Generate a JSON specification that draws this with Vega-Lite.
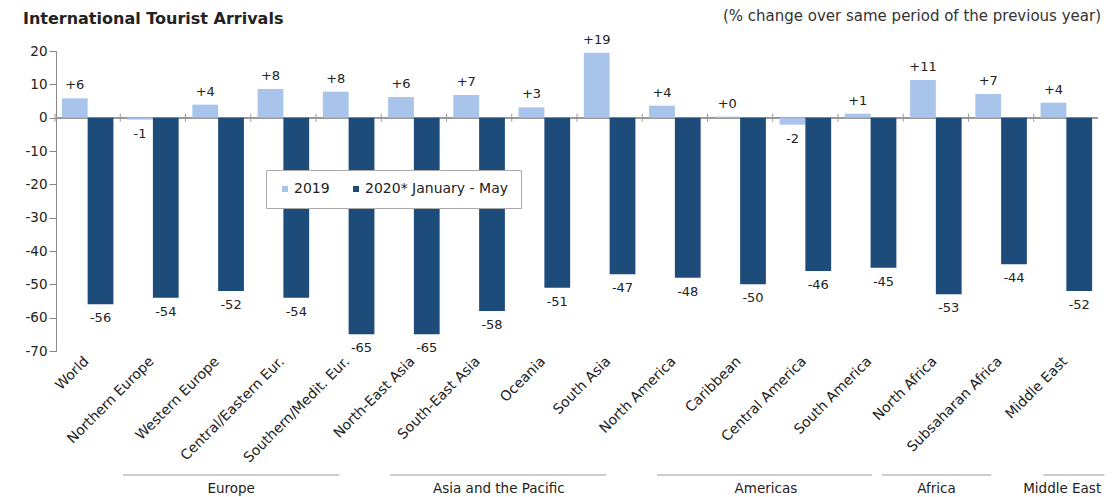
{
  "$schema": "https://vega.github.io/schema/vega-lite/v6.json",
  "background": "white",
  "padding": {"left": 22, "top": 8, "right": 8, "bottom": 0},
  "config": {
    "font": "DejaVu Sans",
    "view": {"stroke": null},
    "concat": {"spacing": 9}
  },
  "title": {
    "text": "International Tourist Arrivals",
    "anchor": "start",
    "frame": "bounds",
    "fontSize": 16,
    "fontWeight": "bold",
    "color": "#222222",
    "offset": -18,
    "dx": -2
  },
  "datasets": {
    "bars": [
      {"region": "World", "series": "2019", "value": 5.8, "label": "+6"},
      {"region": "World", "series": "2020* January - May", "value": -56, "label": "-56"},
      {"region": "Northern Europe", "series": "2019", "value": -0.6, "label": "-1"},
      {"region": "Northern Europe", "series": "2020* January - May", "value": -54, "label": "-54"},
      {"region": "Western Europe", "series": "2019", "value": 3.9, "label": "+4"},
      {"region": "Western Europe", "series": "2020* January - May", "value": -52, "label": "-52"},
      {"region": "Central/Eastern Eur.", "series": "2019", "value": 8.6, "label": "+8"},
      {"region": "Central/Eastern Eur.", "series": "2020* January - May", "value": -54, "label": "-54"},
      {"region": "Southern/Medit. Eur.", "series": "2019", "value": 7.8, "label": "+8"},
      {"region": "Southern/Medit. Eur.", "series": "2020* January - May", "value": -65, "label": "-65"},
      {"region": "North-East Asia", "series": "2019", "value": 6.2, "label": "+6"},
      {"region": "North-East Asia", "series": "2020* January - May", "value": -65, "label": "-65"},
      {"region": "South-East Asia", "series": "2019", "value": 6.8, "label": "+7"},
      {"region": "South-East Asia", "series": "2020* January - May", "value": -58, "label": "-58"},
      {"region": "Oceania", "series": "2019", "value": 3.1, "label": "+3"},
      {"region": "Oceania", "series": "2020* January - May", "value": -51, "label": "-51"},
      {"region": "South Asia", "series": "2019", "value": 19.5, "label": "+19"},
      {"region": "South Asia", "series": "2020* January - May", "value": -47, "label": "-47"},
      {"region": "North America", "series": "2019", "value": 3.6, "label": "+4"},
      {"region": "North America", "series": "2020* January - May", "value": -48, "label": "-48"},
      {"region": "Caribbean", "series": "2019", "value": 0.3, "label": "+0"},
      {"region": "Caribbean", "series": "2020* January - May", "value": -50, "label": "-50"},
      {"region": "Central America", "series": "2019", "value": -2.1, "label": "-2"},
      {"region": "Central America", "series": "2020* January - May", "value": -46, "label": "-46"},
      {"region": "South America", "series": "2019", "value": 1.2, "label": "+1"},
      {"region": "South America", "series": "2020* January - May", "value": -45, "label": "-45"},
      {"region": "North Africa", "series": "2019", "value": 11.3, "label": "+11"},
      {"region": "North Africa", "series": "2020* January - May", "value": -53, "label": "-53"},
      {"region": "Subsaharan Africa", "series": "2019", "value": 7.1, "label": "+7"},
      {"region": "Subsaharan Africa", "series": "2020* January - May", "value": -44, "label": "-44"},
      {"region": "Middle East", "series": "2019", "value": 4.5, "label": "+4"},
      {"region": "Middle East", "series": "2020* January - May", "value": -52, "label": "-52"}
    ],
    "groups": [
      {"group": "Europe", "from_idx": 1.03, "to_idx": 4.35, "center_idx": 2.69},
      {"group": "Asia and the Pacific", "from_idx": 5.13, "to_idx": 8.45, "center_idx": 6.8},
      {"group": "Americas", "from_idx": 9.23, "to_idx": 12.53, "center_idx": 10.9},
      {"group": "Africa", "from_idx": 12.68, "to_idx": 14.36, "center_idx": 13.52},
      {"group": "Middle East", "from_idx": 15.16, "to_idx": 16.1, "center_idx": 15.45}
    ]
  },
  "vconcat": [
    {
      "width": 1042,
      "height": 300,
      "title": {
        "text": "(% change over same period of the previous year)",
        "anchor": "end",
        "frame": "group",
        "fontSize": 15,
        "fontWeight": "normal",
        "color": "#333333",
        "offset": 10,
        "dx": 3
      },
      "data": {"name": "bars"},
      "encoding": {
        "x": {
          "field": "region",
          "type": "nominal",
          "sort": ["World", "Northern Europe", "Western Europe", "Central/Eastern Eur.", "Southern/Medit. Eur.", "North-East Asia", "South-East Asia", "Oceania", "South Asia", "North America", "Caribbean", "Central America", "South America", "North Africa", "Subsaharan Africa", "Middle East"],
          "scale": {"paddingInner": 0.21, "paddingOuter": 0.09},
          "axis": {
            "title": null,
            "labelAngle": -45,
            "domain": false,
            "ticks": false,
            "labelFontSize": 14,
            "labelColor": "#222222",
            "labelPadding": 3,
            "labelOffset": -6,
            "labelOverlap": false
          }
        },
        "y": {
          "field": "value",
          "type": "quantitative",
          "scale": {"domain": [-70, 20], "nice": false},
          "axis": {
            "title": null,
            "values": [-70, -60, -50, -40, -30, -20, -10, 0, 10, 20],
            "labelExpr": "'' + datum.value",
            "grid": false,
            "domainColor": "#888888",
            "tickColor": "#888888",
            "tickSize": 7,
            "labelPadding": 2,
            "labelFontSize": 13.5,
            "labelColor": "#222222",
            "labelOverlap": false
          }
        }
      },
      "layer": [
        {
          "mark": {"type": "rule", "color": "#999999", "strokeWidth": 1},
          "encoding": {"x": null, "y": {"datum": 0, "type": "quantitative"}}
        },
        {
          "transform": [{"filter": "datum.series === '2019'"}],
          "mark": {"type": "rule", "color": "#999999", "strokeWidth": 1},
          "encoding": {
            "x": {"field": "region", "type": "nominal", "sort": ["World", "Northern Europe", "Western Europe", "Central/Eastern Eur.", "Southern/Medit. Eur.", "North-East Asia", "South-East Asia", "Oceania", "South Asia", "North America", "Caribbean", "Central America", "South America", "North Africa", "Subsaharan Africa", "Middle East"], "bandPosition": -0.133},
            "y": {"datum": 1.2, "type": "quantitative"},
            "y2": {"datum": -1.2}
          }
        },
        {
          "mark": {"type": "bar"},
          "encoding": {
            "xOffset": {"field": "series", "type": "nominal", "scale": {"paddingInner": 0, "paddingOuter": 0}},
            "color": {
              "field": "series",
              "type": "nominal",
              "scale": {"domain": ["2019", "2020* January - May"], "range": ["#a9c4eb", "#1d4b7a"]},
              "legend": {
                "orient": "none",
                "legendX": 210,
                "legendY": 119,
                "direction": "horizontal",
                "title": null,
                "fillColor": "white",
                "strokeColor": "#aaaaaa",
                "padding": 12,
                "symbolType": "square",
                "symbolSize": 36,
                "symbolStrokeWidth": 0,
                "labelFontSize": 14,
                "labelColor": "#222222",
                "labelOffset": 2,
                "columnPadding": 19
              }
            }
          }
        },
        {
          "transform": [{"filter": "datum.value >= 0"}],
          "mark": {"type": "text", "fontSize": 13, "color": "#222222", "baseline": "alphabetic", "dy": -9},
          "encoding": {
            "xOffset": {"field": "series", "type": "nominal"},
            "text": {"field": "label"}
          }
        },
        {
          "transform": [{"filter": "datum.value < 0"}],
          "mark": {"type": "text", "fontSize": 13, "color": "#222222", "baseline": "top", "dy": 8},
          "encoding": {
            "xOffset": {"field": "series", "type": "nominal"},
            "text": {"field": "label"}
          }
        }
      ]
    },
    {
      "width": 1042,
      "height": 14,
      "data": {"name": "groups"},
      "layer": [
        {
          "mark": {"type": "rule", "color": "#999999", "strokeWidth": 1.2},
          "encoding": {
            "x": {"field": "from_idx", "type": "quantitative", "scale": {"domain": [0, 16], "nice": false, "zero": false}, "axis": null},
            "x2": {"field": "to_idx"},
            "y": {"datum": 1, "type": "quantitative", "scale": {"domain": [0, 1]}, "axis": null}
          }
        },
        {
          "mark": {"type": "text", "fontSize": 13.5, "color": "#222222", "baseline": "middle"},
          "encoding": {
            "x": {"field": "center_idx", "type": "quantitative"},
            "y": {"datum": 0, "type": "quantitative"},
            "text": {"field": "group"}
          }
        }
      ]
    }
  ]
}
